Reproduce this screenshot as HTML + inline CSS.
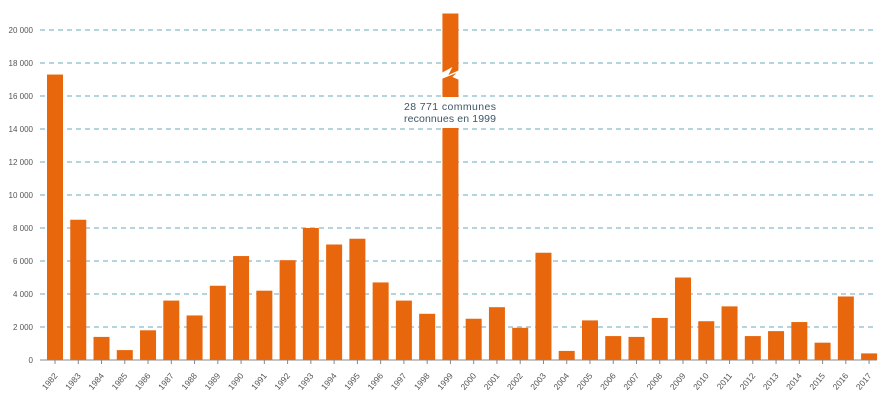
<!DOCTYPE html>
<html><head><meta charset="utf-8"><style>
html,body{margin:0;padding:0;background:#fff;}
svg{display:block;font-family:"Liberation Sans",sans-serif;}
</style></head><body>
<svg id="chart" width="884" height="402"></svg>
<script>
const years = ["1982","1983","1984","1985","1986","1987","1988","1989","1990","1991","1992","1993","1994","1995","1996","1997","1998","1999","2000","2001","2002","2003","2004","2005","2006","2007","2008","2009","2010","2011","2012","2013","2014","2015","2016","2017"];
const values = [17300,8500,1400,600,1800,3600,2700,4500,6300,4200,6050,8000,7000,7350,4700,3600,2800,28771,2500,3200,1950,6500,550,2400,1450,1400,2550,5000,2350,3250,1450,1750,2300,1050,3850,400];
const yTicks = [0,2000,4000,6000,8000,10000,12000,14000,16000,18000,20000];
const yTickLabels = ["0","2 000","4 000","6 000","8 000","10 000","12 000","14 000","16 000","18 000","20 000"];
const capValue = 21000;
const NS="http://www.w3.org/2000/svg";
const svg=document.getElementById('chart');
const y0=360, pxPer=16.5/1000, x0=55, step=23.26, bw=16;
const yS=v=>y0-Math.min(v,capValue)*pxPer;
const xS=i=>x0+i*step;
function mk(t,a){const e=document.createElementNS(NS,t);for(const k in a)e.setAttribute(k,a[k]);svg.appendChild(e);return e;}
yTicks.forEach((t,i)=>{
  if(t>0){const g=mk('line',{x1:40,x2:876,y1:yS(t),y2:yS(t),stroke:'#6aaabf','stroke-width':1,'stroke-dasharray':'5,4'});
  
  }
  const l=mk('text',{x:33,y:yS(t)+3,'text-anchor':'end','font-size':8,fill:'#555'});l.textContent=yTickLabels[i];
  
  
});
values.forEach((v,i)=>{
  const r=mk('rect',{x:xS(i)-bw/2,y:yS(v),width:bw,height:y0-yS(v),fill:'#e8660c'});
  
  
  const tk=mk('line',{x1:xS(i),x2:xS(i),y1:y0,y2:y0+4,stroke:'#888'});
  
  
  const tx=xS(i)+3, ty=y0+16;
  const l=mk('text',{x:tx,y:ty,'text-anchor':'end','font-size':8.5,fill:'#555',transform:`rotate(-50 ${tx} ${ty})`});
  l.textContent=years[i];
  
  
});
const ax=mk('line',{x1:40,x2:877,y1:y0,y2:y0,stroke:'#888','stroke-width':1});


const bi=years.indexOf("1999"), bx=xS(bi);
const br=mk('polygon',{points:`${bx-9},73 ${bx+2},67 ${bx-2},75 ${bx+9},70 ${bx+9},80 ${bx+2},77 ${bx+6},73 ${bx-9},79`,fill:'#fff'});


const wb=mk('rect',{x:bx-12,y:97,width:24,height:31,fill:'#fff'});


const a1=mk('text',{x:404,y:110,'font-size':10.5,fill:'#3d5566','textLength':92});a1.textContent='28 771 communes';


const a2=mk('text',{x:404,y:122,'font-size':10.5,fill:'#3d5566','textLength':92});a2.textContent='reconnues en 1999';


</script>
</body></html>
